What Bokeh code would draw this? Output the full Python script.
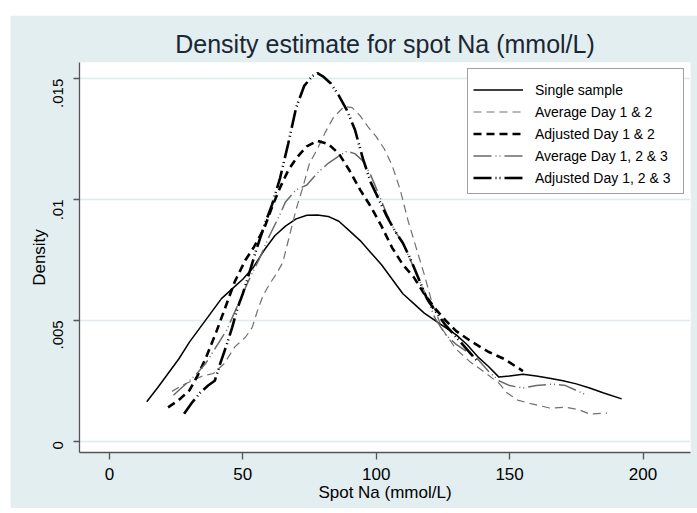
import math
from bokeh.plotting import figure
from bokeh.models import FixedTicker
from bokeh.embed import file_html
from bokeh.resources import INLINE

# ---- data ----
single_x = [14, 18, 22, 26, 30, 34, 38, 42, 46, 50, 54, 58, 62, 66, 70, 74, 78, 82, 86, 90, 94, 98,
            102, 106, 110, 114, 118, 122, 126, 130, 134, 138, 142, 146, 150, 155, 160, 165, 170, 175,
            180, 185, 192]
single_y = [.00163, .0022, .0028, .0034, .0041, .0047, .0053, .0059, .0063, .0067, .0072, .0079, .0085,
            .0089, .0092, .00935, .00936, .0093, .0091, .0087, .0083, .0078, .0073, .0067, .0061, .0057,
            .0053, .0050, .0047, .0044, .0040, .0035, .0031, .00265, .0027, .00277, .0027, .0026, .0025,
            .00237, .0022, .0020, .00175]

avg12_x = [23.5, 27, 31, 35, 39, 43, 47, 51, 53.5, 55.5, 57.5, 60, 62.5, 65, 67.5, 70, 72.5, 75, 78, 81,
           84, 88, 91, 94, 97, 100, 103, 106, 109, 112, 115, 118, 121, 125, 130, 135, 140, 146, 149, 153,
           158, 165, 171, 176, 180, 186.5]
avg12_y = [.00206, .0023, .0025, .0027, .0028, .0032, .0039, .0043, .0047, .0054, .0060, .0065, .0069,
           .0074, .0085, .0096, .0105, .0115, .0121, .0128, .0134, .01385, .0138, .01346, .0130, .0126,
           .0121, .0114, .0104, .0091, .0080, .0069, .0057, .0046, .0038, .0033, .0029, .0024, .0020,
           .0017, .00155, .00137, .0014, .0013, .00112, .00116]

adj12_x = [22, 26, 30, 33, 36, 40, 43, 47, 51, 54, 58, 61, 64, 67, 70, 74, 78, 82, 86, 90, 94, 98, 102,
           106, 110, 114, 118, 122, 126, 130, 136, 142, 148, 155]
adj12_y = [.0014, .0017, .0021, .0027, .0034, .0045, .0054, .0066, .0075, .0080, .0088, .0097, .0105,
           .0112, .0117, .0122, .01243, .0123, .0119, .0112, .0104, .0097, .0089, .0080, .0073, .0068,
           .0061, .0055, .0050, .00455, .0041, .0037, .0034, .0029]

avg123_x = [24, 28, 32, 36, 40, 44, 48, 52, 56, 60, 64, 66, 70, 74, 78, 82, 86, 89, 92, 95, 98, 101,
            104, 107, 110, 114, 118, 122, 126, 130, 134, 138, 142, 146, 150, 155, 160, 166, 171, 175, 179]
avg123_y = [.0019, .0023, .0027, .0032, .0039, .0046, .0056, .0066, .0075, .0085, .0094, .0099, .0104,
            .0106, .0111, .0115, .0118, .0120, .0119, .0116, .0110, .0102, .0094, .0087, .0082, .0072,
            .0062, .0051, .0044, .0040, .0037, .0034, .0029, .0025, .0023, .0022, .0023, .00236, .0023,
            .0021, .0019]

adj123_x = [28, 31, 34, 37, 39.5, 41.5, 44, 46, 48, 50, 52, 55, 58, 61, 64, 67, 70, 73, 76, 78, 80, 83,
            86, 89, 92, 95, 98, 101, 104, 107, 110, 113, 116, 119, 122, 126, 130, 134, 138]
adj123_y = [.00113, .0016, .0020, .0023, .0025, .0032, .0040, .0047, .0055, .0061, .0068, .0079, .0089,
            .0098, .0109, .0123, .0138, .0147, .0151, .01523, .0151, .0148, .0143, .0137, .0129, .0117,
            .0107, .0100, .0093, .0087, .0082, .0075, .0067, .0059, .0054, .0048, .0043, .0038, .0033]

x_ticks = [0, 50, 100, 150, 200]
y_ticks = [0, 0.005, 0.01, 0.015]
y_tick_labels = ["0", ".005", ".01", ".015"]

FONT = "Liberation Sans"
BG = "#E2EEF0"

p = figure(frame_width=611, frame_height=390,
           x_range=(-11.2, 217.8), y_range=(-0.00047, 0.01567),
           output_backend="svg", toolbar_location=None,
           min_border_left=69, min_border_right=7, min_border_top=47, min_border_bottom=56,
           margin=(15, 0, 0, 10))

p.border_fill_color = BG
p.background_fill_color = "white"
p.outline_line_color = None

p.title.text = "Density estimate for spot Na (mmol/L)"
p.title.align = "center"
p.title.text_font = FONT
p.title.text_font_size = "25px"
p.title.text_font_style = "normal"
p.title.text_color = "#1a2634"

# axes
p.xaxis.ticker = FixedTicker(ticks=x_ticks)
p.yaxis.ticker = FixedTicker(ticks=y_ticks)
p.yaxis.major_label_overrides = {t: l for t, l in zip(y_ticks, y_tick_labels)}
p.yaxis.major_label_orientation = math.pi / 2
p.xaxis.axis_label = "Spot Na (mmol/L)"
p.yaxis.axis_label = "Density"
for ax in (p.xaxis, p.yaxis):
    ax.axis_label_text_font = FONT
    ax.axis_label_text_font_style = "normal"
    ax.axis_label_text_font_size = "17px"
    ax.axis_label_text_color = "black"
    ax.major_label_text_font = FONT
    ax.major_label_text_color = "black"
    ax.axis_line_color = "#555555"
    ax.axis_line_width = 1.3
    ax.major_tick_line_color = "#555555"
    ax.major_tick_line_width = 1.3
    ax.major_tick_in = 0
    ax.minor_tick_line_color = None
p.xaxis.major_label_text_font_size = "17px"
p.yaxis.major_label_text_font_size = "15px"
p.xaxis.major_tick_out = 7
p.yaxis.major_tick_out = 6
p.xaxis.major_label_standoff = 8
p.yaxis.major_label_standoff = 15
p.xaxis.axis_label_standoff = 0
p.yaxis.axis_label_standoff = -3

p.xgrid.grid_line_color = None
p.ygrid.ticker = FixedTicker(ticks=y_ticks)
p.ygrid.grid_line_color = "#DCEBEE"
p.ygrid.grid_line_width = 1.4

# curves
p.line(single_x, single_y, line_color="black", line_width=1.5, legend_label="Single sample")
p.line(avg12_x, avg12_y, line_color="#707070", line_width=1.2, line_dash="8 5",
       legend_label="Average Day 1 & 2")
p.line(adj12_x, adj12_y, line_color="black", line_width=2.6, line_dash="8 5",
       legend_label="Adjusted Day 1 & 2")
p.line(avg123_x, avg123_y, line_color="#6a6a6a", line_width=1.5, line_dash="18 4 1 3 1 4",
       legend_label="Average Day 1, 2 & 3")
p.line(adj123_x, adj123_y, line_color="black", line_width=2.6, line_dash="18 4 1 3 1 4",
       legend_label="Adjusted Day 1, 2 & 3")

lg = p.legend[0]
lg.location = "top_right"
lg.margin = 6
lg.padding = 5
lg.spacing = 1
lg.glyph_width = 50
lg.glyph_height = 21
lg.label_height = 21
lg.label_width = 143
lg.label_standoff = 12
lg.label_text_font = FONT
lg.label_text_font_size = "14px"
lg.label_text_color = "black"
lg.title = " "
lg.title_text_font_size = "4px"
lg.title_standoff = 0
lg.border_line_color = "#444444"
lg.border_line_width = 1.2
lg.background_fill_color = "white"
lg.background_fill_alpha = 1.0

open("out.html", "w").write(file_html(p, INLINE))
